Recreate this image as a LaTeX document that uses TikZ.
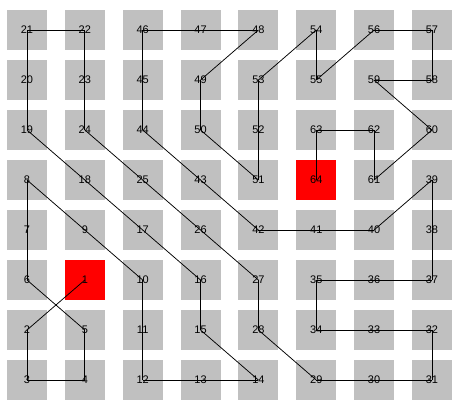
\documentclass[tikz,border=0pt]{standalone}
\usepackage{fontspec}
\setmainfont{Liberation Sans}
\begin{document}
\begin{tikzpicture}[x=1pt,y=-1pt,
  cell/.style={fill=cellgray,minimum width=40pt,minimum height=40pt,inner sep=0pt},
  hot/.style={cell,fill=red},
  lbl/.style={font=\fontsize{11}{13}\selectfont,inner sep=0pt},
  tour/.style={draw=black,line width=0.75pt}]
\definecolor{cellgray}{RGB}{192,192,192}
\useasboundingbox (0,0) rectangle (460,412);
\fill[white] (0,0) rectangle (460,412);
\foreach \r/\labels in {0/{21,22,46,47,48,54,56,57},1/{20,23,45,49,53,55,59,58},2/{19,24,44,50,52,63,62,60},3/{8,18,25,43,51,64,61,39},4/{7,9,17,26,42,41,40,38},5/{6,1,10,16,27,35,36,37},6/{2,5,11,15,28,34,33,32},7/{3,4,12,13,14,29,30,31}}{
  \foreach \v [count=\c from 0] in \labels {
    \ifnum\v=1 \def\st{hot}\else\ifnum\v=64 \def\st{hot}\else\def\st{cell}\fi\fi
    \node[\st] (n\v) at ({27+57.85*\c},{30+50*\r}) {};
  }
}
\foreach \a [evaluate=\a as \b using int(\a+1)] in {1,...,63}{
  \draw[tour] (n\a.center) -- (n\b.center);
}
\foreach \v in {1,...,64}{
  \node[lbl] (t\v) at (n\v.center) {\v};
}
\end{tikzpicture}
\end{document}
